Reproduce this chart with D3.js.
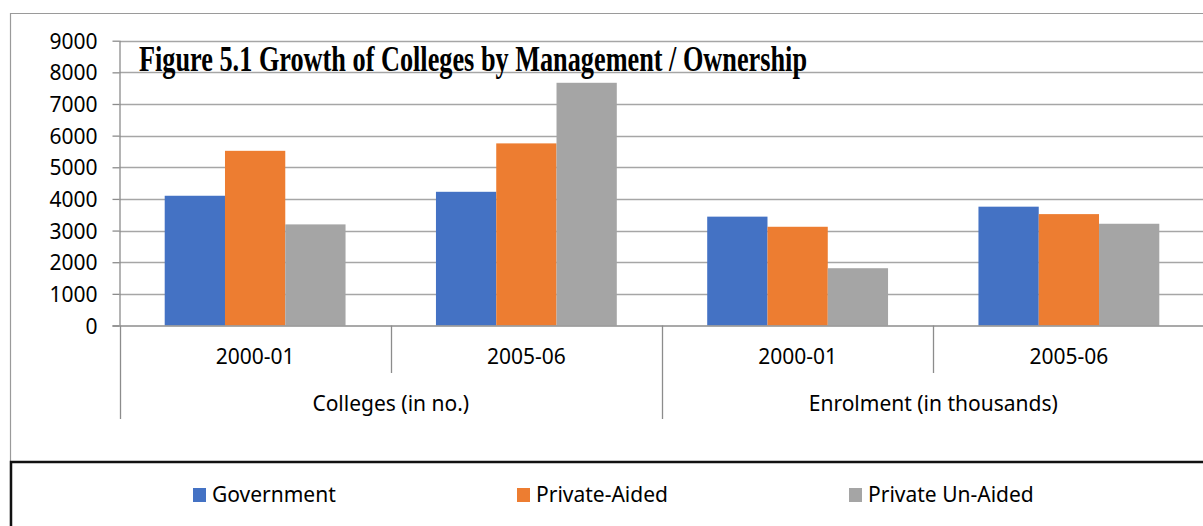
<!DOCTYPE html>
<html>
<head>
<meta charset="utf-8">
<script src="https://cdn.jsdelivr.net/npm/d3@7"></script>
<style>
  html, body { margin: 0; padding: 0; background: #fff; }
  svg { display: block; }
  text { font-family: "Noto Sans", "Open Sans", sans-serif; fill: #000; }
</style>
</head>
<body>
<svg id="chart" width="1203" height="526"></svg>
<script>
// Chart data
const groups = ["Colleges (in no.)", "Enrolment (in thousands)"];
const periods = ["2000-01", "2005-06"];
const seriesNames = ["Government", "Private-Aided", "Private Un-Aided"];
const government = [4100, 4225, 3440, 3755];
const privateAided = [5520, 5755, 3120, 3520];
const privateUnaided = [3195, 7670, 1810, 3215];
const yTicks = [0, 1000, 2000, 3000, 4000, 5000, 6000, 7000, 8000, 9000];
const colors = ["#4472C4", "#ED7D31", "#A5A5A5"];
const titleText = "Figure 5.1 Growth of Colleges by Management / Ownership";

const seriesValues = [government, privateAided, privateUnaided];
const cats = [];
groups.forEach((g, gi) => periods.forEach((p, pi) => cats.push({ key: gi + "|" + p, group: g, period: p })));

const svg = d3.select("#chart");

// Outer chart frame
svg.append("path")
  .attr("d", "M10.5,526 L10.5,13.5 L1210,13.5")
  .attr("fill", "none").attr("stroke", "#9a9a9a").attr("stroke-width", 1.2);

const plotLeft = 119.5, plotRight = 1204.5, plotTop = 40.7, plotBottom = 325.5;

const x0 = d3.scaleBand().domain(cats.map(c => c.key)).range([plotLeft, plotRight]).padding(0);
const x1 = d3.scaleBand().domain(seriesNames).range([0, x0.bandwidth()]).paddingInner(0).paddingOuter(0.75);
const y = d3.scaleLinear().domain([0, 9000]).range([plotBottom, plotTop]);

// Horizontal gridlines
svg.append("g").selectAll("line").data(yTicks.filter(t => t > 0)).join("line")
  .attr("x1", plotLeft).attr("x2", plotRight + 10)
  .attr("y1", d => Math.round(y(d)) + 0.5).attr("y2", d => Math.round(y(d)) + 0.5)
  .attr("stroke", "#a6a6a6").attr("stroke-width", 1.3);

// Title
svg.append("text")
  .attr("x", 139).attr("y", 71)
  .attr("textLength", 668).attr("lengthAdjust", "spacingAndGlyphs")
  .style("font-family", "'Liberation Serif', 'Times New Roman', serif")
  .style("font-weight", "bold").style("font-size", "35px")
  .text(titleText);

// Bars
const catG = svg.append("g").selectAll("g").data(cats).join("g")
  .attr("transform", c => `translate(${x0(c.key)},0)`);
catG.selectAll("rect")
  .data((c, ci) => seriesNames.map((s, si) => ({ s, si, v: seriesValues[si][ci] })))
  .join("rect")
  .attr("x", d => x1(d.s)).attr("width", x1.bandwidth())
  .attr("y", d => y(d.v)).attr("height", d => y(0) - y(d.v))
  .attr("fill", d => colors[d.si]);

// Y axis
const yAxis = svg.append("g").attr("transform", `translate(${plotLeft},0)`)
  .call(d3.axisLeft(y).tickValues(yTicks).tickFormat(d3.format("d")).tickSize(7).tickPadding(15));
yAxis.select(".domain").attr("stroke", "#8c8c8c").attr("stroke-width", 1.3)
  .attr("d", `M0.5,${plotTop}V${plotBottom}`);
yAxis.selectAll(".tick line").attr("stroke", "#8c8c8c").attr("stroke-width", 1.3);
yAxis.selectAll(".tick text").style("font-size", "21px").attr("dy", "0.36em").attr("fill", "#000");

// Horizontal axis line
svg.append("line")
  .attr("x1", plotLeft - 7).attr("x2", plotRight + 10)
  .attr("y1", plotBottom + 0.5).attr("y2", plotBottom + 0.5)
  .attr("stroke", "#8c8c8c").attr("stroke-width", 1.3);

// Category dividers: short between periods, long between groups
const boundaries = d3.range(cats.length + 1).map(i => ({
  x: i < cats.length ? x0(cats[i].key) : plotRight,
  long: i % periods.length === 0
}));
svg.append("g").selectAll("line").data(boundaries).join("line")
  .attr("x1", d => Math.round(d.x) + 0.5).attr("x2", d => Math.round(d.x) + 0.5)
  .attr("y1", plotBottom).attr("y2", d => d.long ? 419 : 373)
  .attr("stroke", "#8c8c8c").attr("stroke-width", 1.3);

// Period labels
svg.append("g").selectAll("text").data(cats).join("text")
  .attr("x", c => x0(c.key) + x0.bandwidth() / 2).attr("y", 364)
  .attr("text-anchor", "middle").style("font-size", "21px")
  .text(c => c.period);

// Group labels
svg.append("g").selectAll("text").data(groups).join("text")
  .attr("x", (g) => {
    const ks = cats.filter(c => c.group === g).map(c => c.key);
    return (x0(ks[0]) + x0(ks[ks.length - 1]) + x0.bandwidth()) / 2;
  })
  .attr("y", 411).attr("text-anchor", "middle").style("font-size", "21px")
  .text(g => g);

// Legend box
svg.append("rect")
  .attr("x", 11).attr("y", 462).attr("width", 1200).attr("height", 80)
  .attr("fill", "#fff").attr("stroke", "#111").attr("stroke-width", 2.5);

const legendX = [193, 517, 849];
const leg = svg.append("g").selectAll("g").data(seriesNames).join("g")
  .attr("transform", (d, i) => `translate(${legendX[i]},488)`);
leg.append("rect").attr("width", 13).attr("height", 14).attr("fill", (d, i) => colors[i]);
leg.append("text").attr("x", 19).attr("y", 14).style("font-size", "21px").text(d => d);
</script>
</body>
</html>
